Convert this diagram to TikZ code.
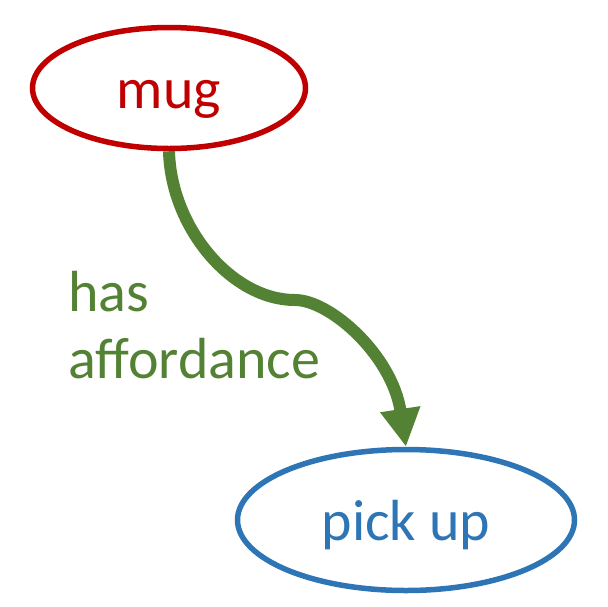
\documentclass[tikz,border=0pt]{standalone}
\usepackage{fontspec}
\setmainfont{Carlito}
\usetikzlibrary{positioning,arrows.meta,shapes.geometric,calc}
\definecolor{mugred}{RGB}{192,0,0}
\definecolor{actionblue}{RGB}{46,117,182}
\definecolor{relgreen}{RGB}{84,130,53}

\begin{document}
\begin{tikzpicture}[x=1pt, y=-1pt, >=Stealth,
    concept/.style={ellipse, draw, line width=5.5pt, inner sep=0pt,
        text height=41pt, text depth=0pt,
        font=\fontsize{58}{67}\selectfont},
    relation/.style={relgreen, line width=12pt,
        -{Triangle[length=38pt, width=38pt]}},
    rellabel/.style={relgreen, inner sep=0pt, align=left,
        font=\fontsize{58}{67}\selectfont}]

    % Cadre (pixels de la figure)
    \useasboundingbox (0,0) rectangle (608,606);

    % =========================================================================
    % CONCEPTS
    % =========================================================================
    \node[concept, mugred, minimum width=273pt, minimum height=121pt]
        (mug) at (169, 88) {mug};
    \node[concept, actionblue, minimum width=337pt, minimum height=141pt]
        (pickup) at (406, 520) {pick up};

    % =========================================================================
    % RELATION
    % =========================================================================
    \draw[relation] (mug.south) .. controls (171, 228) and (232, 300) .. (295, 300)
        .. controls (330, 300) and (392, 355) .. (pickup.north);
    % base = ligne de base de la dernière ligne
    \node[rellabel, anchor=base west] (hasaff) at (68, 378) {has\\affordance};

\end{tikzpicture}
\end{document}
